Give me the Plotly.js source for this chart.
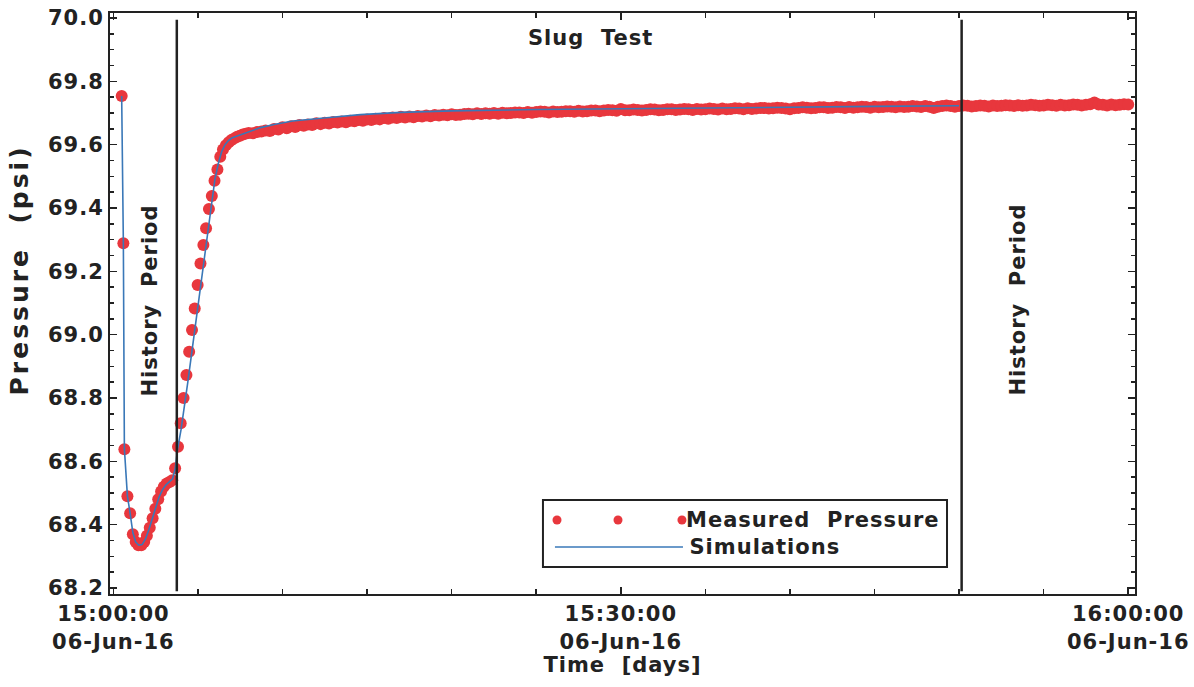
<!DOCTYPE html>
<html><head><meta charset="utf-8">
<script src="https://cdn.plot.ly/plotly-3.0.1.min.js"></script>
<style>
html,body{margin:0;padding:0;background:#fff}
#chart{width:1194px;height:687px}
#chart .main-svg text{letter-spacing:1px}
#chart .main-svg .annotation[data-index="0"] text{letter-spacing:3px}
</style>
</head><body><div id="chart"></div>
<script>
// Minutes after 15:00:00 on 06-Jun-16
const measuredMinutes = [
 0.49,0.59,0.65,0.83,0.99,1.15,1.32,1.48,1.65,1.82,1.98,2.15,2.32,2.48,2.65,2.82,2.98,3.15,3.32,3.48,
 3.65,3.82,3.98,4.15,4.32,4.48,4.65,4.81,4.98,5.15,5.32,5.48,5.65,5.82,5.98,6.15,6.32,6.48,6.65,6.82,
 6.98,7.15,7.32,7.48,7.65,7.82,
 8.0,8.25,8.5,8.75,9.0,9.25,9.5,9.75,10.0,10.25,10.5,10.75,11.0,11.25,11.5,11.75,12.0,12.25,12.5,12.75,
 13.0,13.25,13.5,13.75,14.0,14.25,14.5,14.75,15.0,15.25,15.5,15.75,16.0,16.25,16.5,16.75,17.0,17.25,17.5,17.75,
 18.0,18.25,18.5,18.75,19.0,19.25,19.5,19.75,20.0,20.25,20.5,20.75,21.0,21.25,21.5,21.75,22.0,22.25,22.5,22.75,
 23.0,23.25,23.5,23.75,24.0,24.25,24.5,24.75,25.0,25.25,25.5,25.75,26.0,26.25,26.5,26.75,27.0,27.25,27.5,27.75,
 28.0,28.25,28.5,28.75,29.0,29.25,29.5,29.75,30.0,30.25,30.5,30.75,31.0,31.25,31.5,31.75,32.0,32.25,32.5,32.75,
 33.0,33.25,33.5,33.75,34.0,34.25,34.5,34.75,35.0,35.25,35.5,35.75,36.0,36.25,36.5,36.75,37.0,37.25,37.5,37.75,
 38.0,38.25,38.5,38.75,39.0,39.25,39.5,39.75,40.0,40.25,40.5,40.75,41.0,41.25,41.5,41.75,42.0,42.25,42.5,42.75,
 43.0,43.25,43.5,43.75,44.0,44.25,44.5,44.75,45.0,45.25,45.5,45.75,46.0,46.25,46.5,46.75,47.0,47.25,47.5,47.75,
 48.0,48.25,48.5,48.75,49.0,49.25,49.5,49.75,50.0,50.25,50.5,50.75,51.0,51.25,51.5,51.75,52.0,52.25,52.5,52.75,
 53.0,53.25,53.5,53.75,54.0,54.25,54.5,54.75,55.0,55.25,55.5,55.75,56.0,56.25,56.5,56.75,57.0,57.25,57.5,57.75,
 58.0,58.25,58.5,58.75,59.0,59.25,59.5,59.75,60.0
];
const measuredPsi = [
 69.754,69.289,68.638,68.490,68.436,68.370,68.345,68.335,68.335,68.345,68.365,68.390,68.420,68.450,68.480,68.505,68.520,68.530,68.535,68.540,
 68.578,68.646,68.720,68.800,68.873,68.946,69.015,69.083,69.157,69.225,69.283,69.336,69.397,69.438,69.486,69.522,69.562,69.585,69.598,69.608,
 69.615,69.620,69.625,69.628,69.632,69.635,
 69.637,69.636,69.640,69.642,69.645,69.643,69.650,69.648,69.655,69.652,69.658,69.656,69.662,69.660,69.664,69.662,69.668,69.665,69.669,69.667,
 69.672,69.670,69.673,69.671,69.676,69.674,69.678,69.676,69.680,69.678,69.682,69.680,69.684,69.682,69.686,69.684,69.688,69.686,69.689,69.687,
 69.691,69.689,69.692,69.690,69.694,69.692,69.695,69.693,69.696,69.694,69.695,69.697,69.698,69.696,69.699,69.697,69.699,69.698,69.700,69.698,
 69.701,69.699,69.700,69.702,69.702,69.700,69.703,69.701,69.703,69.705,69.704,69.702,69.705,69.703,69.704,69.706,69.706,69.704,69.707,69.705,
 69.706,69.708,69.708,69.706,69.708,69.710,69.709,69.707,69.713,69.709,69.709,69.711,69.710,69.708,69.710,69.712,69.711,69.709,69.710,69.712,
 69.712,69.710,69.711,69.713,69.712,69.710,69.713,69.711,69.712,69.714,69.713,69.711,69.714,69.712,69.713,69.715,69.714,69.712,69.715,69.713,
 69.714,69.716,69.716,69.714,69.715,69.717,69.716,69.714,69.712,69.715,69.716,69.718,69.717,69.715,69.716,69.718,69.718,69.716,69.717,69.719,
 69.718,69.716,69.719,69.717,69.718,69.720,69.719,69.717,69.720,69.718,69.719,69.721,69.720,69.718,69.721,69.719,69.720,69.722,69.721,69.719,
 69.722,69.720,69.716,69.720,69.722,69.724,69.722,69.720,69.722,69.724,69.723,69.721,69.722,69.724,69.723,69.721,69.724,69.722,69.723,69.725,
 69.724,69.722,69.725,69.723,69.724,69.726,69.725,69.723,69.724,69.726,69.725,69.723,69.726,69.724,69.725,69.727,69.726,69.724,69.726,69.728,
 69.733,69.727,69.726,69.724,69.727,69.725,69.726,69.728,69.727
];
const simMinutes = [
 0.49,0.59,0.65,0.83,0.99,1.15,1.32,1.5,1.7,1.9,2.1,2.3,2.5,2.7,2.9,3.1,3.3,3.5,3.65,3.8,
 4.0,4.2,4.4,4.6,4.8,5.0,5.2,5.4,5.6,5.8,6.0,6.2,6.4,6.6,6.8,7.0,7.5,8.0,8.7,9.5,
 10.6,12.6,14.6,17.0,20.0,25.0,30.0,35.0,40.0,45.0,50.0
];
const simPsi = [
 69.754,69.289,68.640,68.490,68.436,68.375,68.345,68.335,68.337,68.355,68.385,68.420,68.455,68.487,68.510,68.525,68.535,68.545,68.575,68.640,
 68.700,68.770,68.850,68.930,69.010,69.100,69.180,69.260,69.340,69.420,69.490,69.540,69.578,69.600,69.613,69.621,69.631,69.642,69.654,69.664,
 69.675,69.685,69.695,69.702,69.707,69.711,69.714,69.717,69.719,69.721,69.723
];
const historyBoundaries = [3.75, 50.15];
const periodLabels = ["History\u00a0\u00a0Period", "Slug\u00a0\u00a0Test", "History\u00a0\u00a0Period"];
const xTickVals = [0, 30, 60];
const xTickText = ["15:00:00<br>06-Jun-16", "15:30:00<br>06-Jun-16", "16:00:00<br>06-Jun-16"];
const yTickVals = [68.2, 68.4, 68.6, 68.8, 69.0, 69.2, 69.4, 69.6, 69.8, 70.0];
const yTickText = ["68.2", "68.4", "68.6", "68.8", "69.0", "69.2", "69.4", "69.6", "69.8", "70.0"];
const seriesNames = ["Measured\u00a0\u00a0Pressure", "Simulations"];
const axisTitles = { x: "Time\u00a0\u00a0[days]", y: "Pressure\u00a0\u00a0(psi)" };

const RED = '#e8373d', BLUE = '#3a78b8', INK = '#222222';
const FONT = 'DejaVu Sans, Liberation Sans, sans-serif';

const traces = [
  { x: measuredMinutes, y: measuredPsi, mode: 'markers', name: seriesNames[0],
    marker: { color: RED, size: 12, symbol: 'circle' }, showlegend: false },
  { x: simMinutes, y: simPsi, mode: 'lines', name: seriesNames[1],
    line: { color: BLUE, width: 1.6 }, showlegend: false }
];

// legend box position in paper coords
const L = { x0: 0.4224, x1: 0.8166, y0: 0.0465, y1: 0.1618 };
const shapes = [
  ...historyBoundaries.map(b => ({ type: 'line', xref: 'x', yref: 'y', x0: b, x1: b, y0: 68.19, y1: 69.995,
    line: { color: INK, width: 2.5 } })),
  { type: 'rect', xref: 'paper', yref: 'paper', x0: L.x0, x1: L.x1, y0: L.y0, y1: L.y1,
    line: { color: INK, width: 2 }, fillcolor: 'rgba(255,255,255,0)' },
  ...[0.4361, 0.4956, 0.5580].map(px => ({ type: 'circle', xref: 'paper', yref: 'paper',
    xsizemode: 'pixel', ysizemode: 'pixel', xanchor: px, yanchor: 0.1274,
    x0: -4.5, x1: 4.5, y0: -4.5, y1: 4.5, fillcolor: RED, line: { width: 0 } })),
  { type: 'line', xref: 'paper', yref: 'paper', x0: 0.4341, x1: 0.5590, y0: 0.0809, y1: 0.0809,
    line: { color: BLUE, width: 1.6 } }
];

const annFont = { family: FONT, size: 21, color: INK, weight: 'bold' };
const annotations = [
  { text: axisTitles.y, xref: 'paper', yref: 'paper', x: -0.0878, y: 0.5577, xanchor: 'center', yanchor: 'middle',
    textangle: -90, showarrow: false, font: { family: FONT, size: 25, color: INK, weight: 'bold' } },
  { text: periodLabels[0], xref: 'paper', yref: 'paper', x: 0.039, y: 0.506, xanchor: 'center', yanchor: 'middle',
    textangle: -90, showarrow: false, font: annFont },
  { text: periodLabels[1], xref: 'paper', yref: 'paper', x: 0.4683, y: 0.957, xanchor: 'center', yanchor: 'middle',
    showarrow: false, font: annFont },
  { text: periodLabels[2], xref: 'paper', yref: 'paper', x: 0.8859, y: 0.506, xanchor: 'center', yanchor: 'middle',
    textangle: -90, showarrow: false, font: annFont },
  { text: seriesNames[0], xref: 'paper', yref: 'paper', x: 0.5688, y: 0.1274, xanchor: 'left', yanchor: 'middle',
    showarrow: false, font: annFont },
  { text: seriesNames[1], xref: 'paper', yref: 'paper', x: 0.5688, y: 0.0809, xanchor: 'left', yanchor: 'middle',
    showarrow: false, font: annFont }
];

const tickFont = { family: FONT, size: 21, color: INK, weight: 'bold' };
const layout = {
  width: 1194, height: 687,
  margin: { l: 110, r: 59, t: 13, b: 93 },
  paper_bgcolor: '#fff', plot_bgcolor: '#fff',
  showlegend: false,
  xaxis: {
    range: [-0.2, 60.4], tickmode: 'array', tickvals: xTickVals, ticktext: xTickText,
    showgrid: false, zeroline: false, showline: true, linecolor: INK, linewidth: 2, mirror: 'ticks',
    ticks: 'inside', ticklen: 7, tickwidth: 1.5, tickcolor: INK, tickfont: tickFont,
    minor: { dtick: 5, ticks: 'inside', ticklen: 5, tickwidth: 1.5, tickcolor: INK, showgrid: false },
    title: { text: axisTitles.x, font: { family: FONT, size: 21, color: INK, weight: 'bold' }, standoff: 2 }
  },
  yaxis: {
    range: [68.181, 70.016], tickmode: 'array', tickvals: yTickVals, ticktext: yTickText,
    showgrid: false, zeroline: false, showline: true, linecolor: INK, linewidth: 2, mirror: 'ticks',
    ticks: 'inside', ticklen: 7, tickwidth: 1.5, tickcolor: INK, tickfont: tickFont,
    minor: { dtick: 0.05, tick0: 68.2, ticks: 'inside', ticklen: 4, tickwidth: 1.5, tickcolor: INK, showgrid: false }
  },
  shapes: shapes,
  annotations: annotations
};

Plotly.newPlot('chart', traces, layout, { staticPlot: true, displayModeBar: false });
</script></body></html>
